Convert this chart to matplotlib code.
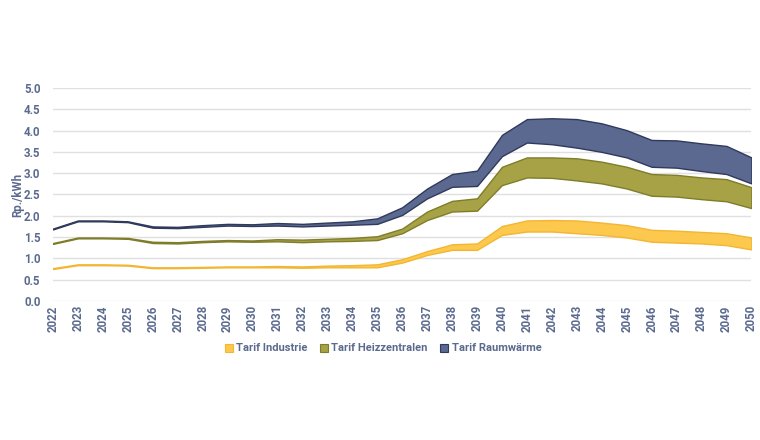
import matplotlib
matplotlib.use("Agg")
import matplotlib.pyplot as plt
from matplotlib.patches import Patch
import numpy as np

years = list(range(2022, 2051))

ind_low = [0.75, 0.84, 0.84, 0.83, 0.77, 0.77, 0.78, 0.79, 0.79, 0.79, 0.78, 0.79, 0.79, 0.79,
           0.90, 1.08, 1.20, 1.20, 1.55, 1.63, 1.63, 1.59, 1.55, 1.49, 1.39, 1.37, 1.35, 1.31, 1.21]
ind_high = [0.77, 0.86, 0.86, 0.85, 0.79, 0.79, 0.80, 0.81, 0.81, 0.82, 0.81, 0.83, 0.84, 0.86,
            0.98, 1.17, 1.33, 1.35, 1.76, 1.89, 1.90, 1.89, 1.84, 1.78, 1.67, 1.65, 1.62, 1.59, 1.49]

hz_low = [1.34, 1.47, 1.47, 1.46, 1.36, 1.35, 1.38, 1.40, 1.39, 1.40, 1.38, 1.40, 1.41, 1.43,
          1.59, 1.90, 2.10, 2.12, 2.72, 2.90, 2.89, 2.83, 2.76, 2.64, 2.47, 2.45, 2.39, 2.34, 2.18]
hz_high = [1.36, 1.49, 1.49, 1.48, 1.39, 1.38, 1.41, 1.43, 1.42, 1.45, 1.44, 1.46, 1.48, 1.52,
           1.70, 2.10, 2.35, 2.41, 3.15, 3.37, 3.37, 3.35, 3.27, 3.15, 2.98, 2.96, 2.90, 2.86, 2.67]

rw_low = [1.68, 1.87, 1.87, 1.85, 1.72, 1.71, 1.74, 1.77, 1.76, 1.77, 1.75, 1.77, 1.79, 1.81,
          2.02, 2.41, 2.68, 2.70, 3.40, 3.72, 3.68, 3.60, 3.50, 3.37, 3.15, 3.13, 3.05, 2.98, 2.76]
rw_high = [1.70, 1.89, 1.89, 1.87, 1.75, 1.74, 1.78, 1.81, 1.80, 1.83, 1.81, 1.84, 1.87, 1.94,
           2.20, 2.64, 2.98, 3.06, 3.90, 4.27, 4.29, 4.27, 4.17, 4.01, 3.78, 3.77, 3.70, 3.64, 3.37]

labels = ["Tarif Industrie", "Tarif Heizzentralen", "Tarif Raumwärme"]
fills = ["#fdc84e", "#a6a245", "#5b6890"]
edges = ["#f2b632", "#7f7d2a", "#2f3a5c"]

text_col = "#5b6a8f"
plt.rcParams['font.family'] = ['Roboto', 'DejaVu Sans']
plt.rcParams['font.weight'] = 'bold'

fig = plt.figure(figsize=(7.6, 4.4), dpi=100)
ax = fig.add_axes([0.0697, 0.316, 0.919, 0.484])

series = [(ind_low, ind_high), (hz_low, hz_high), (rw_low, rw_high)]
for (lo, hi), fc, ec in zip(series, fills, edges):
    ax.fill_between(years, lo, hi, facecolor=fc, edgecolor=ec, linewidth=1.0, zorder=3)

ax.set_xlim(2022, 2050)
ax.set_ylim(0, 5.0)
ax.set_yticks(np.arange(0, 5.01, 0.5))
ax.set_yticklabels([f"{v:.1f}" for v in np.arange(0, 5.01, 0.5)])
ax.set_xticks(years)
ax.set_xticklabels([str(y) for y in years], rotation=90)
ax.grid(axis='y', color='#e0e0e0', linewidth=1.0, zorder=0)
ax.grid(axis='x', visible=False)
for s in ax.spines.values():
    s.set_visible(False)
ax.tick_params(axis='both', length=0, colors=text_col, labelsize=8.3)
ax.tick_params(axis='x', pad=3)
ax.tick_params(axis='y', pad=9)
for lab in ax.get_xticklabels() + ax.get_yticklabels():
    lab.set_fontweight('bold')
ax.set_ylabel("Rp./kWh", color=text_col, fontsize=8.3, fontweight='bold')
ax.yaxis.set_label_coords(-0.041, 0.5)

handles = [Patch(facecolor=f, edgecolor=e, linewidth=0.8) for f, e in zip(fills, edges)]
leg = fig.legend(handles, labels, loc='center', bbox_to_anchor=(0.504, 0.208), ncol=3,
                 frameon=False, prop={'family': ['Roboto', 'DejaVu Sans'], 'weight': 'bold', 'size': 8.0},
                 handlelength=0.75, handleheight=0.75,
                 handletextpad=0.3, columnspacing=1.1)
for t in leg.get_texts():
    t.set_color(text_col)
    t.set_fontweight('bold')

fig.savefig("out.png", dpi=100, facecolor='white')
